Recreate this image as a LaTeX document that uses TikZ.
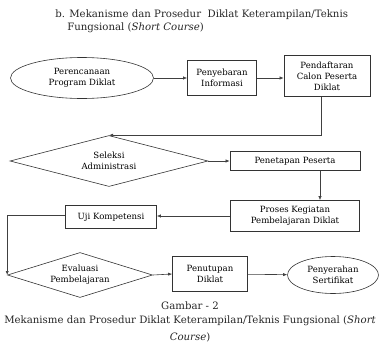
\documentclass[tikz,border=0pt]{standalone}
\usepackage{fontspec}
\setmainfont{DejaVu Serif}
\usetikzlibrary{positioning,calc,shapes.geometric,arrows.meta}
\tikzstyle{box}=[rectangle,draw=black!80,inner sep=1bp,align=center,font=\fontsize{8.6}{11}\selectfont]
\tikzstyle{oval}=[ellipse,draw=black!80,inner sep=0bp,align=center,font=\fontsize{8.6}{11}\selectfont]
\tikzstyle{dia}=[diamond,draw=black!80,inner sep=0bp,align=center,font=\fontsize{8.6}{11}\selectfont]
\tikzstyle{txt}=[inner sep=0bp,text=black!85,font=\fontsize{10.2}{12}\selectfont]
\tikzstyle{link}=[draw=black!75,line width=0.6pt,-{Latex[length=4bp,width=3.2bp]}]

\begin{document}
\begin{tikzpicture}[x=1bp,y=-1bp,line width=0.6pt]
  \useasboundingbox (0,0) rectangle (382,347);

  \node [txt,anchor=west] at (55,15) (judul1) {b. Mekanisme dan Prosedur\ \ Diklat Keterampilan/Teknis};
  \node [txt,anchor=west] at (67,28) (judul2) {Fungsional (\textit{Short Course})};

  \node [oval,minimum width=143bp,minimum height=41bp] at (82,78) (perencanaan) {Perencanaan\\Program Diklat};
  \node [box,minimum width=69bp,minimum height=35bp] at (222,78) (penyebaran) {Penyebaran\\Informasi};
  \node [box,minimum width=86bp,minimum height=41bp] at (327,76) (pendaftaran) {Pendaftaran\\Calon Peserta\\Diklat};
  \node [dia,minimum width=198bp,minimum height=51bp,aspect=3.9] at (109,161) (seleksi) {Seleksi\\Administrasi};
  \node [box,minimum width=130bp,minimum height=19bp] at (295,161) (penetapan) {Penetapan Peserta};
  \node [box,minimum width=129bp,minimum height=31bp] at (295,216) (proses) {Proses Kegiatan\\Pembelajaran Diklat};
  \node [box,minimum width=91bp,minimum height=23bp] at (111,217) (uji) {Uji Kompetensi};
  \node [dia,minimum width=145bp,minimum height=45bp,aspect=3.2] at (80,275) (evaluasi) {Evaluasi\\Pembelajaran};
  \node [box,minimum width=75bp,minimum height=35bp] at (210,274) (penutupan) {Penutupan\\Diklat};
  \node [oval,minimum width=91bp,minimum height=37bp] at (333,275) (penyerahan) {Penyerahan\\Sertifikat};

  \draw [link] (perencanaan) -- (penyebaran);
  \draw [link] (penyebaran.east) -- (penyebaran.east -| pendaftaran.west);
  \draw [link] ([xshift=-6bp]pendaftaran.south) |- (seleksi.north);
  \draw [link] (seleksi.east) -- (penetapan.west);
  \draw [link] ([xshift=25bp]penetapan.south) -- ([xshift=25bp]proses.north);
  \draw [link] (proses.west) -- (proses.west -| uji.east);
  \draw [link] ([yshift=2bp]uji.west) -| (evaluasi.west);
  \draw [link] (evaluasi.east) -- (penutupan.west);
  \draw [link] (penutupan) -- (penyerahan);

  \node [txt] at (190,306) (gambar) {Gambar - 2};
  \node [txt] at (190,321) (ket1) {Mekanisme dan Prosedur Diklat Keterampilan/Teknis Fungsional (\textit{Short}};
  \node [txt] at (190,337) (ket2) {\textit{Course})};
\end{tikzpicture}
\end{document}
